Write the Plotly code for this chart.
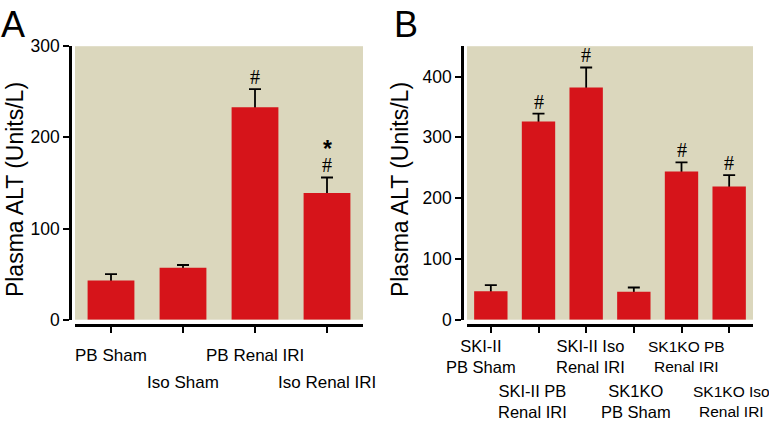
import plotly.graph_objects as go

W, H = 769, 425

# ---------------- data ----------------
a_categories = ["PB Sham", "Iso Sham", "PB Renal IRI", "Iso Renal IRI"]
a_ticklabels = ["PB Sham", "Iso Sham", "PB Renal IRI", "Iso Renal IRI"]
a_values = [43, 57, 233, 139]
a_errors = [7, 3, 20, 17]
a_hash = ["", "", "#", "#"]
a_star = ["", "", "", "*"]
a_yticks = [0, 100, 200, 300]

b_categories = ["SKI-II PB Sham", "SKI-II PB Renal IRI", "SKI-II Iso Renal IRI",
                "SK1KO PB Sham", "SK1KO PB Renal IRI", "SK1KO Iso Renal IRI"]
b_ticklabels = ["SKI-II<br>PB Sham", "SKI-II PB<br>Renal IRI", "SKI-II Iso<br>Renal IRI",
                "SK1KO<br>PB Sham", "SK1KO PB<br>Renal IRI", "SK1KO Iso<br>Renal IRI"]
b_values = [47, 326, 382, 46, 244, 219]
b_errors = [10, 13, 33, 7, 15, 19]
b_hash = ["", "#", "#", "", "#", "#"]
b_yticks = [0, 100, 200, 300, 400]

y_title = "Plasma ALT (Units/L)"

# ---------------- style ----------------
RED = "#D6141A"
BG = "#DBD7BD"
SANS = "Liberation Sans, Arial, sans-serif"
SERIF = "Liberation Serif, Times New Roman, serif"

def px_x(p):
    return p / W

def px_y(p):
    return 1 - p / H

y_dom = [px_y(325), px_y(38)]
a_xdom = [px_x(75), px_x(363)]
b_xdom = [px_x(467), px_x(753)]

fig = go.Figure()

def add_panel(cats, vals, errs, bw, xa, ya):
    # error bars (drawn beneath the bars so only the upper half shows)
    fig.add_trace(go.Bar(x=cats, y=vals, width=bw, xaxis=xa, yaxis=ya,
                         marker=dict(color="rgba(0,0,0,0)", line=dict(width=0)),
                         error_y=dict(type="data", array=errs, symmetric=True,
                                      color="black", thickness=1.8, width=6),
                         showlegend=False, hoverinfo="skip"))
    fig.add_trace(go.Bar(x=cats, y=vals, width=bw, xaxis=xa, yaxis=ya,
                         marker=dict(color=RED, line=dict(width=0)),
                         showlegend=False))

add_panel(a_categories, a_values, a_errors, 0.65, "x", "y")
add_panel(b_categories, b_values, b_errors, 0.70, "x2", "y2")

xcommon = dict(type="category", showline=True, linecolor="black", linewidth=2.5,
               ticks="outside", ticklen=6, tickwidth=2, tickcolor="black",
               showticklabels=False, showgrid=False, zeroline=False,
               anchor="free", position=px_y(331), fixedrange=True)
ycommon = dict(showline=True, linecolor="black", linewidth=2.5,
               ticks="outside", ticklen=6, tickwidth=2, tickcolor="black",
               tickfont=dict(family=SANS, size=17.5, color="black"),
               showgrid=False, zeroline=False, anchor="free", domain=y_dom,
               fixedrange=True)

fig.update_layout(
    width=W, height=H,
    margin=dict(l=0, r=0, t=0, b=0),
    paper_bgcolor="white", plot_bgcolor=BG,
    barmode="overlay",
    xaxis=dict(domain=a_xdom, range=[-0.5, len(a_categories) - 0.5], **xcommon),
    xaxis2=dict(domain=b_xdom, range=[-0.5, len(b_categories) - 0.5], **xcommon),
    yaxis=dict(range=[0, 300], tickvals=a_yticks, position=px_x(70), **ycommon),
    yaxis2=dict(range=[0, 450], tickvals=b_yticks, position=px_x(462), **ycommon),
)

ann = []
# panel letters
ann.append(dict(text="A", x=px_x(-1), y=px_y(15), xref="paper", yref="paper",
                xanchor="left", yanchor="middle", showarrow=False,
                font=dict(family=SANS, size=36, color="black")))
ann.append(dict(text="B", x=px_x(392), y=px_y(15.5), xref="paper", yref="paper",
                xanchor="left", yanchor="middle", showarrow=False,
                font=dict(family=SANS, size=36, color="black")))
# y titles
for xp in (15, 400):
    ann.append(dict(text=y_title, x=px_x(xp), y=px_y(189), xref="paper", yref="paper",
                    xanchor="center", yanchor="middle", textangle=-90, showarrow=False,
                    font=dict(family=SANS, size=23, color="black")))

# x labels panel A (staggered)
a_rowshift = [-36, -62.5]
for i, (c, t) in enumerate(zip(a_categories, a_ticklabels)):
    ann.append(dict(text=t, x=c, y=y_dom[0], xref="x", yref="paper",
                    xanchor="center", yanchor="middle", yshift=a_rowshift[i % 2],
                    showarrow=False, font=dict(family=SANS, size=17, color="black")))

# x labels panel B (staggered, two lines)
b_rowshift = [-36.8, -82]
b_xshift = [-10, -6, 4, 2, 5, 2]
b_fsize = [16.5, 16.5, 16.5, 16.5, 15.5, 15.5]
for i, (c, t) in enumerate(zip(b_categories, b_ticklabels)):
    ann.append(dict(text=t, x=c, y=y_dom[0], xref="x2", yref="paper",
                    xanchor="center", yanchor="middle", yshift=b_rowshift[i % 2],
                    xshift=b_xshift[i], align="center",
                    showarrow=False, font=dict(family=SANS, size=b_fsize[i], color="black")))

# significance marks
def sig(cats, vals, errs, marks, xr, yr, shift, font):
    for c, v, e, m in zip(cats, vals, errs, marks):
        if m:
            ann.append(dict(text=m, x=c, y=v + e, xref=xr, yref=yr,
                            xanchor="center", yanchor="middle", yshift=shift,
                            showarrow=False, font=font))

hash_font = dict(family=SERIF, size=20, color="black")
star_font = dict(family=SANS, size=23, color="black", weight="bold")
sig(a_categories, a_values, a_errors, a_hash, "x", "y", 12, hash_font)
sig(a_categories, a_values, a_errors, a_star, "x", "y", 28, star_font)
sig(b_categories, b_values, b_errors, b_hash, "x2", "y2", 12, hash_font)

fig.update_layout(annotations=ann)

post = (
    "document.documentElement.style.margin='0';"
    "document.body.style.margin='0';"
)
fig.write_html("out.html", config={"displayModeBar": False}, post_script=post)
